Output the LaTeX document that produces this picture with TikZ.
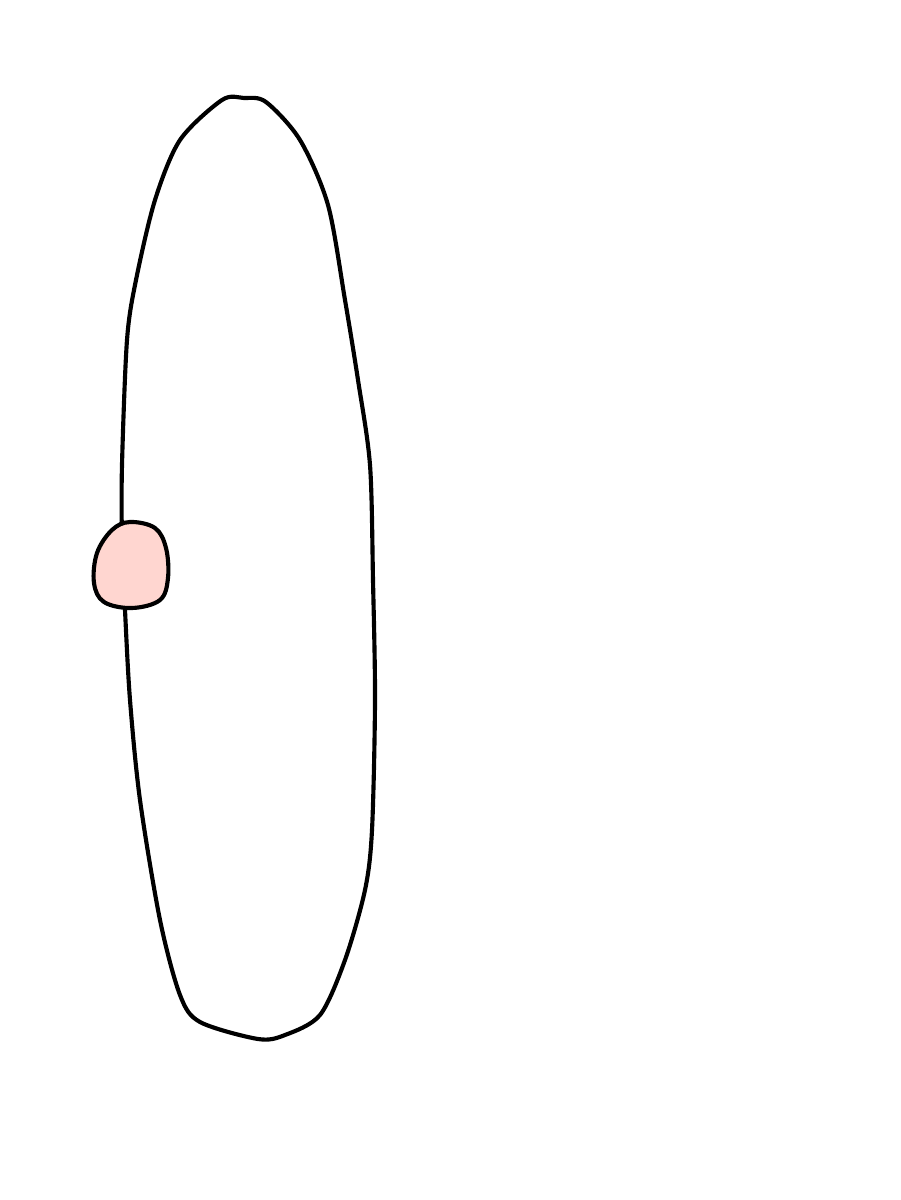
\documentclass[tikz,border=0pt]{standalone}
\definecolor{blobfill}{RGB}{255,214,208}
\tikzset{outline/.style={line width=3.1pt, draw=black, line join=round}}
\begin{document}
\begin{tikzpicture}[x=0.75pt,y=-0.75pt]
\useasboundingbox (0,0) rectangle (900,1200);
% large loop
\draw[outline] plot[smooth cycle, tension=0.5] coordinates {
 (222,100) (244,98) (266,102) (300,140) (328,205) (345,300) (358,380) (370,465)
 (373,580) (375,700) (372,830) (365,890) (345,960) (320,1015) (285,1035) (258,1039)
 (200,1022) (180,995) (160,920) (140,800) (130,700) (125,610) (122,540) (122,465)
 (127,340) (136,280) (155,200) (180,140) };
% pink blob
\draw[outline, fill=blobfill] plot[smooth cycle, tension=0.6] coordinates {
 (130,522) (155,528) (166,548) (168,578) (160,600) (132,608) (104,602)
 (94,583) (97,553) (112,530) };
\end{tikzpicture}
\end{document}
